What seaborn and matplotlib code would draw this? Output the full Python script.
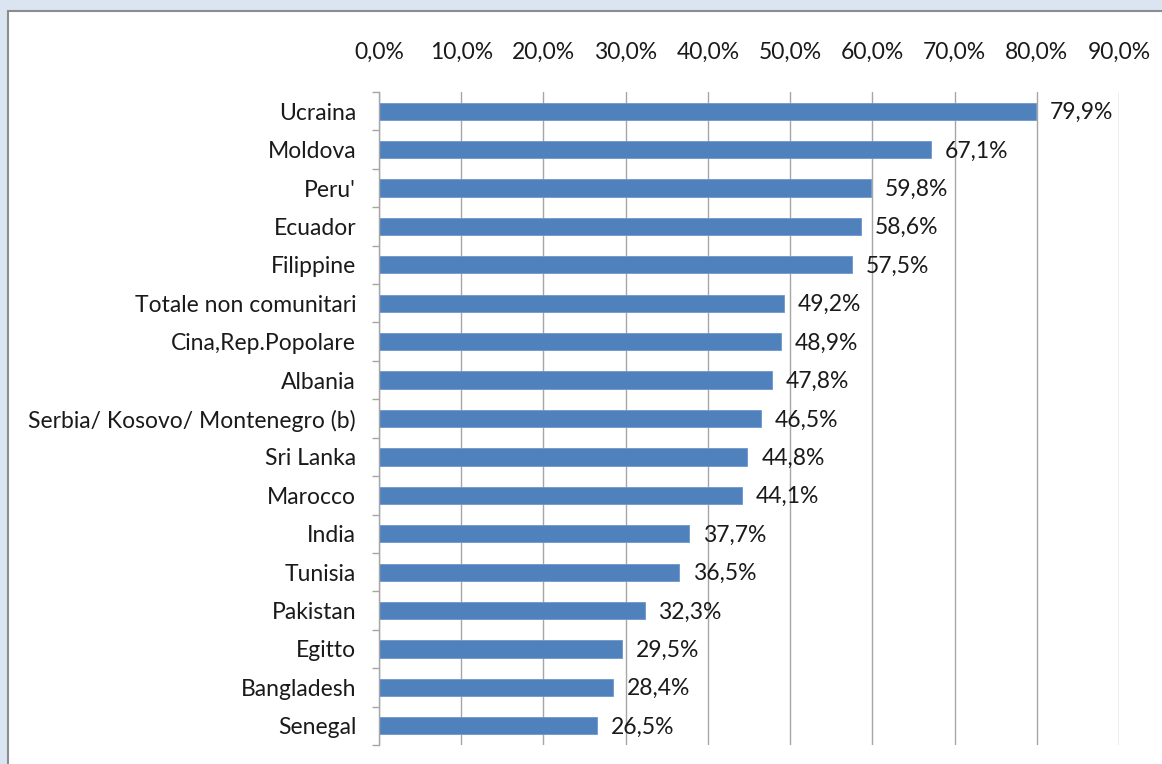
import matplotlib.pyplot as plt
import numpy as np
import pandas as pd
import seaborn as sns
from matplotlib.patches import Rectangle
from matplotlib.ticker import FixedLocator, FuncFormatter

# Data
paesi = [
    "Ucraina", "Moldova", "Peru'", "Ecuador", "Filippine",
    "Totale non comunitari", "Cina,Rep.Popolare", "Albania",
    "Serbia/ Kosovo/ Montenegro (b)", "Sri Lanka", "Marocco", "India",
    "Tunisia", "Pakistan", "Egitto", "Bangladesh", "Senegal",
]
quote = [79.9, 67.1, 59.8, 58.6, 57.5, 49.2, 48.9, 47.8, 46.5, 44.8,
         44.1, 37.7, 36.5, 32.3, 29.5, 28.4, 26.5]
x_ticks = [0, 10, 20, 30, 40, 50, 60, 70, 80, 90]

df = pd.DataFrame({"paese": paesi, "quota": quote})

sns.set_style("white")
plt.rcParams["font.family"] = ["Lato", "DejaVu Sans"]
FS = 16.5

fig = plt.figure(figsize=(11.62, 7.64), dpi=100)
fig.patch.set_facecolor("#dbe5f1")
# white chart panel with grey border, kept behind the axes
panel = Rectangle((8 / 1162, -0.1), 1.2, 1.1 - 11 / 764,
                  transform=fig.transFigure, facecolor="white",
                  edgecolor="#8c8c8c", linewidth=1.5, zorder=-10)
fig.add_artist(panel)

ax = fig.add_axes([379 / 1162, 19 / 764, 740 / 1162, (745 - 92) / 764])
ax.set_zorder(1)
ax.set_facecolor("none")

sns.barplot(data=df, x="quota", y="paese", orient="h", color="#4f81bd",
            width=0.45, saturation=1, edgecolor="#6f97cc", linewidth=0.6, ax=ax)

ax.set_xlim(0, 90)
ax.set_ylim(len(paesi) - 0.5, -0.5)
ax.xaxis.tick_top()
ax.set_xticks(x_ticks)
ax.xaxis.set_major_formatter(FuncFormatter(lambda v, p: f"{v:.1f}%".replace(".", ",")))
ax.tick_params(axis="x", length=0, pad=21, labelsize=FS, colors="#1a1a1a")
ax.grid(axis="x", color="#a6a6a6", linewidth=1)
ax.set_axisbelow(True)

ax.tick_params(axis="y", which="major", length=0, pad=16.5, labelsize=FS,
               colors="#1a1a1a")
ax.yaxis.set_minor_locator(FixedLocator(np.arange(-0.5, len(paesi), 1)))
ax.tick_params(axis="y", which="minor", left=True, length=5, color="#a6a6a6",
               width=1)

for side in ["top", "right", "bottom"]:
    ax.spines[side].set_visible(False)
ax.spines["left"].set_color("#a6a6a6")
ax.spines["left"].set_linewidth(1)

ax.set_xlabel("")
ax.set_ylabel("")

for i, v in enumerate(quote):
    ax.annotate(f"{v:.1f}%".replace(".", ","), (v, i), xytext=(10, -1),
                textcoords="offset points", va="center", ha="left",
                fontsize=FS, color="#1a1a1a")

plt.savefig("out.png", dpi=100)
plt.close()
